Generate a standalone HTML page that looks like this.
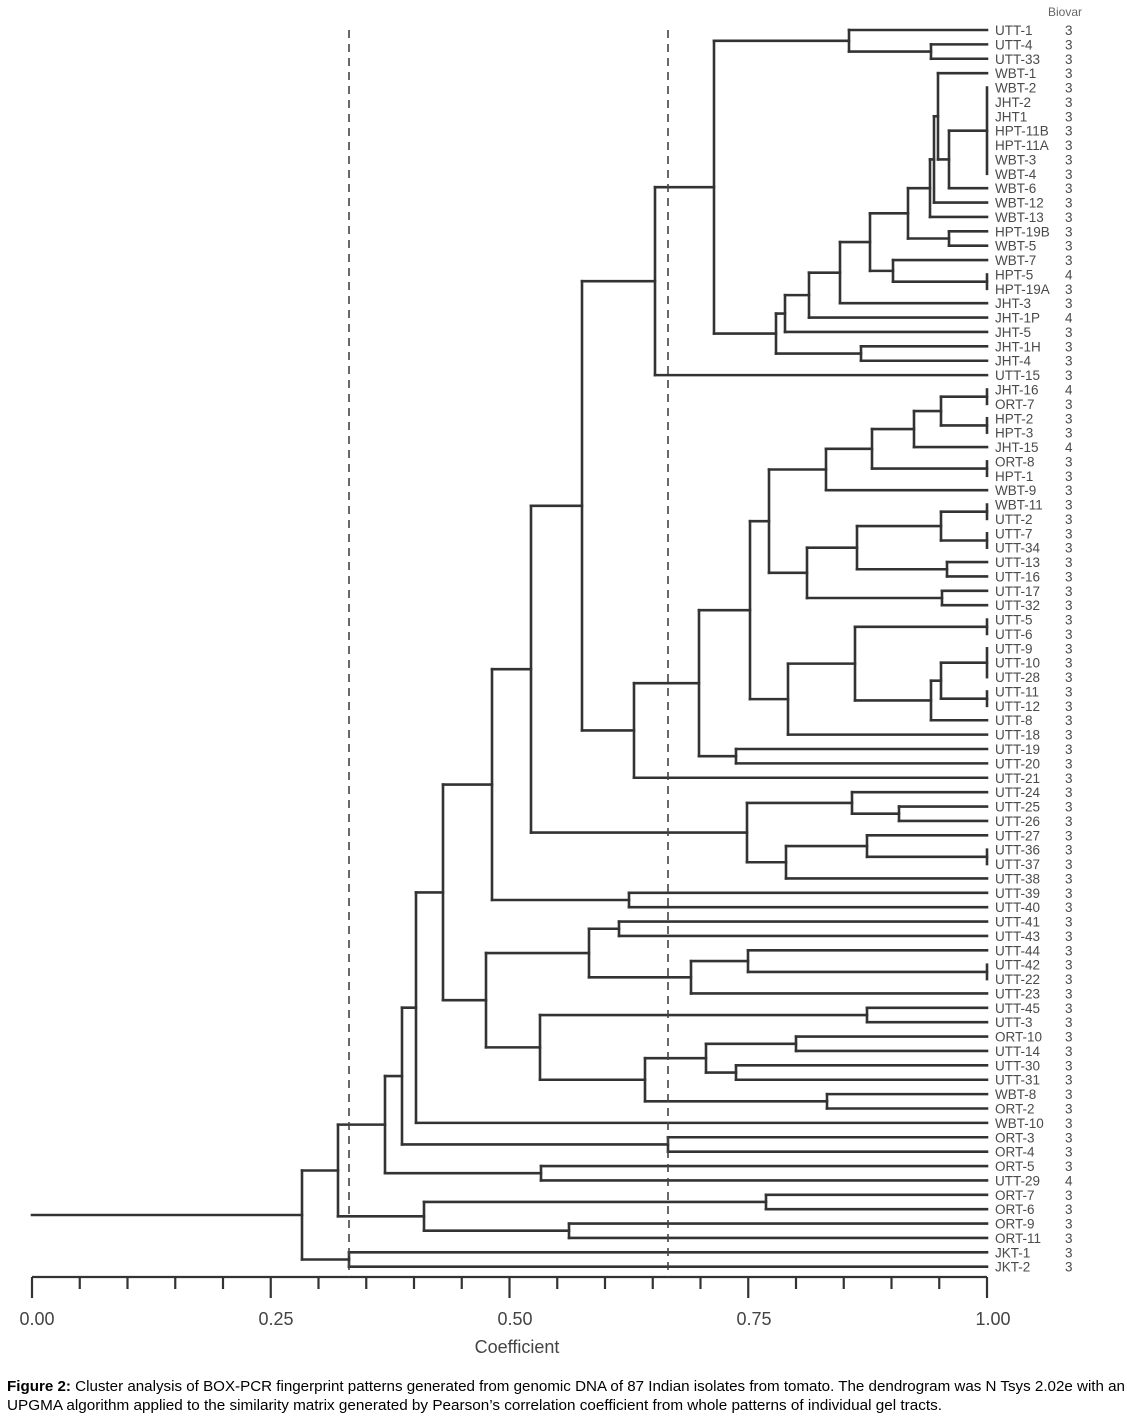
<!DOCTYPE html>
<html><head><meta charset="utf-8"><style>
html,body{margin:0;padding:0;background:#fff;}
svg{display:block;}
</style></head><body>
<svg id="s" width="1127" height="1417" viewBox="0 0 1127 1417" xmlns="http://www.w3.org/2000/svg" font-family="Liberation Sans, sans-serif">
<g id="tree" stroke="#333" stroke-width="2.6" fill="none" stroke-linecap="square"></g>
<g id="axis" stroke="#333" stroke-width="2.2" fill="none"></g>
<g id="labels" fill="#4a4a4a" font-size="13.5"></g>
<line x1="349" y1="30" x2="349" y2="1277" stroke="#444" stroke-width="1.6" stroke-dasharray="8,6"/>
<line x1="668" y1="30" x2="668" y2="1277" stroke="#444" stroke-width="1.6" stroke-dasharray="8,6"/>
<svg x="1040" y="0" width="49" height="24"><text x="8" y="16" font-size="12" fill="#666">Biovar</text></svg>
<g fill="#444" font-size="18" text-anchor="middle">
<text x="37" y="1325">0.00</text>
<text x="276" y="1325">0.25</text>
<text x="515" y="1325">0.50</text>
<text x="754" y="1325">0.75</text>
<text x="993" y="1325">1.00</text>
<text x="517" y="1353">Coefficient</text>
</g>
<text x="7" y="1391" font-size="14.5" fill="#000" textLength="1118" lengthAdjust="spacingAndGlyphs"><tspan font-weight="bold">Figure 2:</tspan> Cluster analysis of BOX-PCR fingerprint patterns generated from genomic DNA of 87 Indian isolates from tomato. The dendrogram was N Tsys 2.02e with an</text>
<text x="7" y="1410" font-size="14.5" fill="#000" textLength="935" lengthAdjust="spacingAndGlyphs">UPGMA algorithm applied to the similarity matrix generated by Pearson’s correlation coefficient from whole patterns of individual gel tracts.</text>
</svg>
<script>
(function(){
var NS="http://www.w3.org/2000/svg";
var tree=document.getElementById("tree"),axis=document.getElementById("axis"),lab=document.getElementById("labels");
function line(g,x1,y1,x2,y2){var l=document.createElementNS(NS,"line");l.setAttribute("x1",x1);l.setAttribute("y1",y1);l.setAttribute("x2",x2);l.setAttribute("y2",y2);g.appendChild(l);}
var Y=function(i){return 30+(i-1)*14.38;};
function L(i){return {x:987,y:Y(i)};}
function N(x){var c=Array.prototype.slice.call(arguments,1);var ys=c.map(function(o){return o.y;});
var mn=Math.min.apply(null,ys),mx=Math.max.apply(null,ys);
line(tree,x,mn,x,mx);
c.forEach(function(o){if(o.x!==x)line(tree,o.x,o.y,x,o.y);});
return {x:x,y:(mn+mx)/2};}
var A1=N(931,L(2),L(3)),A2=N(849,L(1),A1);
var bar=N(987,L(5),L(6),L(7),L(8),L(9),L(10),L(11));
var B1=N(949,bar,L(12)),B2=N(938,L(4),B1),B3=N(934,B2,L(13)),B4=N(930,B3,L(14));
var C1=N(949,L(15),L(16)),B5=N(908,B4,C1);
var C2=N(893,L(17),N(987,L(18),L(19)));
var B6=N(870,B5,C2),B7=N(840,B6,L(20)),B8=N(809,B7,L(21)),B9=N(785,B8,L(22));
var C3=N(861,L(23),L(24)),B10=N(776,B9,C3),T1=N(714,A2,B10),T2=N(655,T1,L(25));
var D1=N(941,N(987,L(26),L(27)),N(987,L(28),L(29))),D2=N(914,D1,L(30)),D3=N(872,D2,N(987,L(31),L(32))),D4=N(826,D3,L(33));
var E1=N(941,N(987,L(34),L(35)),N(987,L(36),L(37))),E2=N(947,L(38),L(39)),E3=N(857,E1,E2),E4=N(942,L(40),L(41)),E5=N(807,E3,E4),D5=N(769,D4,E5);
var F1=N(941,N(987,L(44),L(45),L(46)),N(987,L(47),L(48))),F2=N(931,F1,L(49)),F3=N(855,N(987,L(42),L(43)),F2),F4=N(788,F3,L(50));
var D6=N(750,D5,F4),G1=N(736,L(51),L(52)),D7=N(699,D6,G1),D8=N(634,D7,L(53));
var T3=N(582,T2,D8);
var H1=N(899,L(55),L(56)),H2=N(852,L(54),H1),H3=N(867,L(57),N(987,L(58),L(59))),H4=N(786,H3,L(60)),H5=N(747,H2,H4);
var D9=N(531,T3,H5);
var I1=N(629,L(61),L(62)),T4=N(492,D9,I1);
var J1=N(619,L(63),L(64)),J2=N(748,L(65),N(987,L(66),L(67))),J3=N(691,J2,L(68)),J4=N(589,J1,J3);
var K1=N(867,L(69),L(70)),K2=N(796,L(71),L(72)),K3=N(736,L(73),L(74)),K4=N(706,K2,K3),K5=N(827,L(75),L(76)),K6=N(645,K4,K5),K7=N(540,K1,K6),J5=N(486,J4,K7);
var T5=N(443,T4,J5),T6=N(416,T5,L(77)),L1=N(668,L(78),L(79)),T7=N(402,T6,L1),M1=N(541,L(80),L(81)),T8=N(385,T7,M1);
var N1=N(766,L(82),L(83)),N2=N(569,L(84),L(85)),N3=N(424,N1,N2),T9=N(338,T8,N3),P=N(349,L(86),L(87)),R=N(302,T9,P);
line(tree,32,R.y,302,R.y);
line(axis,32,1277,987,1277);
for(var k=0;k<=20;k++){var x=32+k*47.75;line(axis,x,1277,x,(k%5==0)?1298:1289);}
var names=["UTT-1","UTT-4","UTT-33","WBT-1","WBT-2","JHT-2","JHT1","HPT-11B","HPT-11A","WBT-3","WBT-4","WBT-6","WBT-12","WBT-13","HPT-19B","WBT-5","WBT-7","HPT-5","HPT-19A","JHT-3","JHT-1P","JHT-5","JHT-1H","JHT-4","UTT-15","JHT-16","ORT-7","HPT-2","HPT-3","JHT-15","ORT-8","HPT-1","WBT-9","WBT-11","UTT-2","UTT-7","UTT-34","UTT-13","UTT-16","UTT-17","UTT-32","UTT-5","UTT-6","UTT-9","UTT-10","UTT-28","UTT-11","UTT-12","UTT-8","UTT-18","UTT-19","UTT-20","UTT-21","UTT-24","UTT-25","UTT-26","UTT-27","UTT-36","UTT-37","UTT-38","UTT-39","UTT-40","UTT-41","UTT-43","UTT-44","UTT-42","UTT-22","UTT-23","UTT-45","UTT-3","ORT-10","UTT-14","UTT-30","UTT-31","WBT-8","ORT-2","WBT-10","ORT-3","ORT-4","ORT-5","UTT-29","ORT-7","ORT-6","ORT-9","ORT-11","JKT-1","JKT-2"];
var four={18:1,21:1,26:1,30:1,81:1};
for(var i=1;i<=87;i++){
var t=document.createElementNS(NS,"text");t.setAttribute("x",995);t.setAttribute("y",(Y(i)+5).toFixed(1));t.textContent=names[i-1];lab.appendChild(t);
var b=document.createElementNS(NS,"text");b.setAttribute("x",1065);b.setAttribute("y",(Y(i)+5).toFixed(1));b.textContent=four[i]?"4":"3";lab.appendChild(b);}
})();
</script>
</body></html>
